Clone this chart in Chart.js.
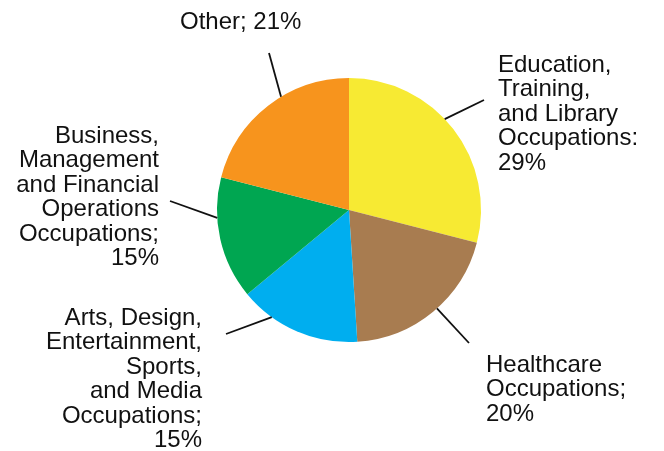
<!DOCTYPE html>
<html>
<head>
<meta charset="utf-8">
<script src="https://cdn.jsdelivr.net/npm/chart.js@4"></script>
<style>
  html, body { margin: 0; padding: 0; background: #fff; }
  #wrap { width: 664px; height: 451px; position: relative; }
</style>
</head>
<body>
<div id="wrap"><canvas id="pie"></canvas></div>
<script>
// data
const categories = [
  "Education, Training, and Library Occupations",
  "Healthcare Occupations",
  "Arts, Design, Entertainment, Sports, and Media Occupations",
  "Business, Management and Financial Operations Occupations",
  "Other"
];
const shares = [29, 20, 15, 15, 21];
const colors = ["#f7ea33", "#a87c50", "#00aeef", "#00a651", "#f7941d"];

// label text lines per slice
const labelLines = [
  ["Education,", "Training,", "and Library", "Occupations:", shares[0] + "%"],
  ["Healthcare", "Occupations;", shares[1] + "%"],
  ["Arts, Design,", "Entertainment,", "Sports,", "and Media", "Occupations;", shares[2] + "%"],
  ["Business,", "Management", "and Financial", "Operations", "Occupations;", shares[3] + "%"],
  ["Other; " + shares[4] + "%"]
];

// where each callout sits (anchor = fraction along slice arc)
const callouts = [
  { anchor: 0.445, end: [484, 100], x: 498, y: 72, align: "left" },
  { anchor: 0.47, end: [469, 343], x: 486, y: 372, align: "left" },
  { anchor: 0.73, end: [226, 334], x: 202, y: 325, align: "right" },
  { anchor: 0.67, end: [170, 201], x: 159, y: 143, align: "right" },
  { anchor: 0.59, end: [269, 53], x: 180, y: 29, align: "left" }
];

const calloutPlugin = {
  id: "callouts",
  afterDatasetsDraw(chart) {
    const ctx = chart.ctx;
    const arcs = chart.getDatasetMeta(0).data;
    ctx.save();
    ctx.strokeStyle = "#111";
    ctx.lineWidth = 1.8;
    ctx.fillStyle = "#111";
    ctx.font = "24px 'Liberation Sans', Arial, sans-serif";
    ctx.textBaseline = "alphabetic";
    arcs.forEach((arc, i) => {
      const c = callouts[i];
      const a = arc.startAngle + (arc.endAngle - arc.startAngle) * c.anchor;
      const sx = arc.x + Math.cos(a) * arc.outerRadius;
      const sy = arc.y + Math.sin(a) * arc.outerRadius;
      ctx.beginPath();
      ctx.moveTo(sx, sy);
      ctx.lineTo(c.end[0], c.end[1]);
      ctx.stroke();
      ctx.textAlign = c.align;
      labelLines[i].forEach((t, j) => ctx.fillText(t, c.x, c.y + j * 24.4));
    });
    ctx.restore();
  }
};

new Chart(document.getElementById("pie"), {
  type: "pie",
  data: {
    labels: categories,
    datasets: [{
      data: shares,
      backgroundColor: colors,
      borderWidth: 0
    }]
  },
  options: {
    responsive: true,
    maintainAspectRatio: false,
    animation: false,
    layout: { padding: { left: 217, right: 183, top: 78, bottom: 109 } },
    plugins: {
      legend: { display: false },
      tooltip: { enabled: false }
    }
  },
  plugins: [calloutPlugin]
});
</script>
</body>
</html>
